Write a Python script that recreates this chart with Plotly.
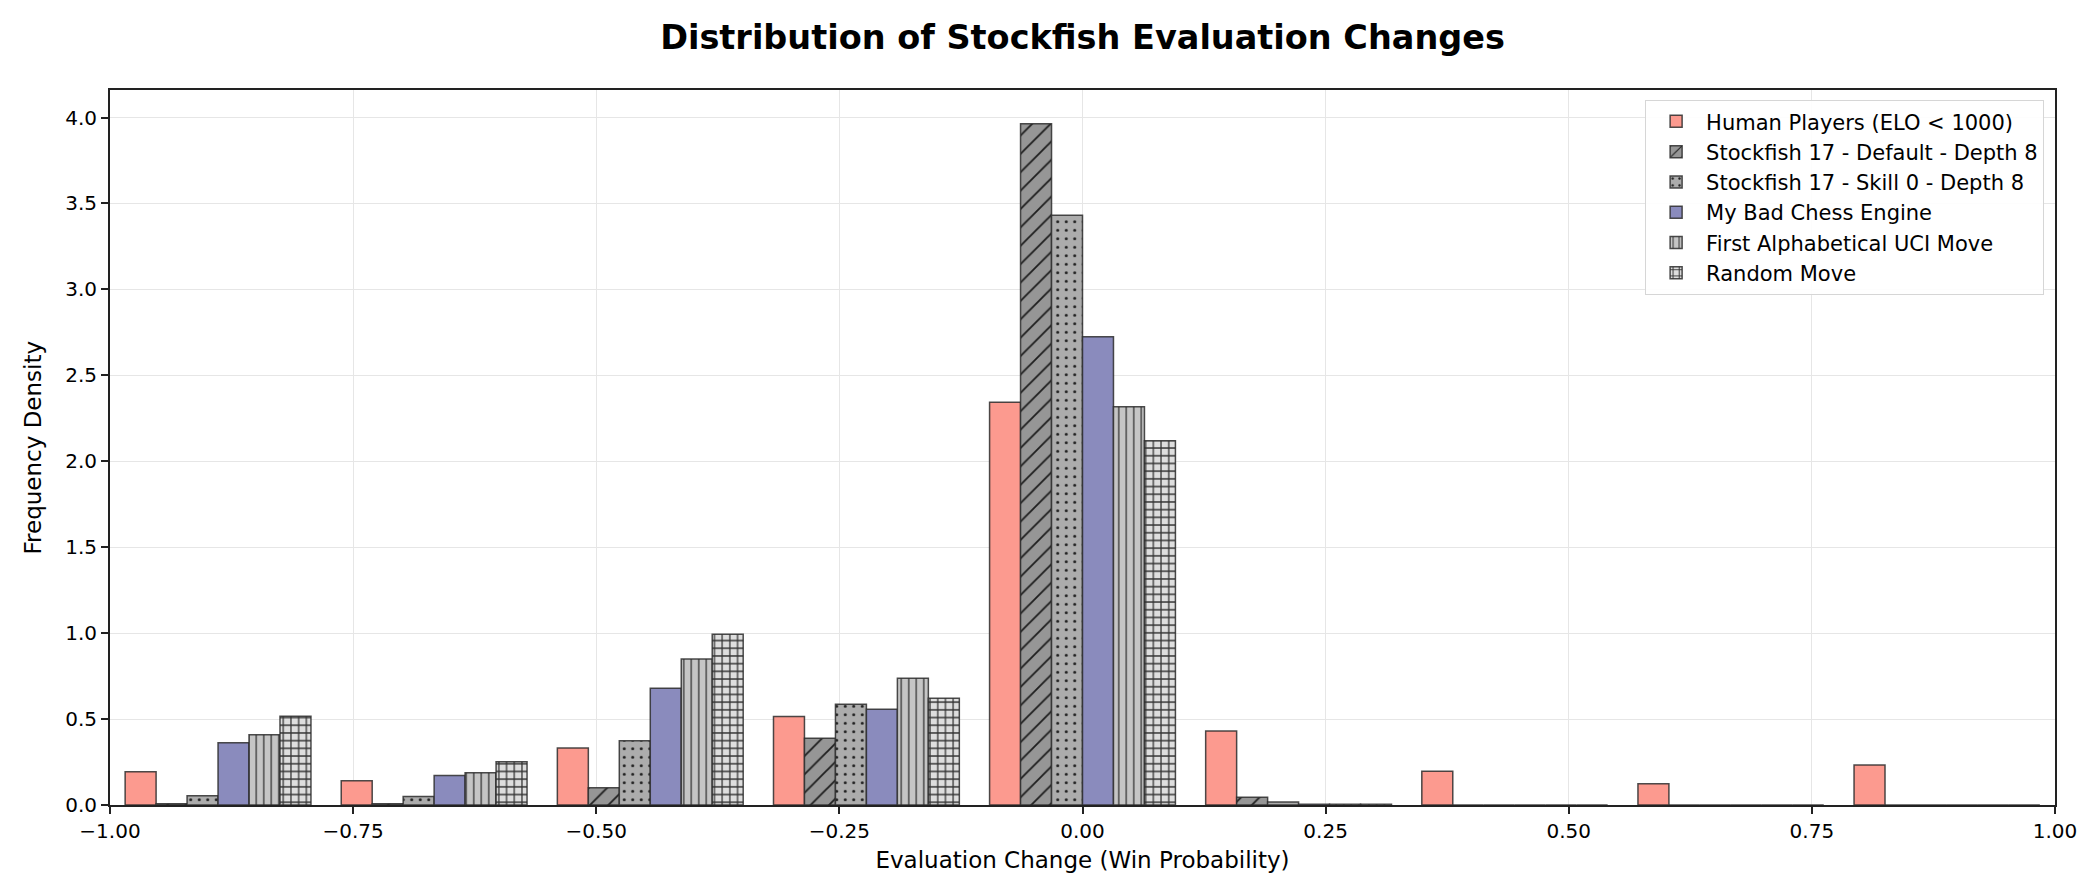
import numpy as np
import plotly.graph_objects as go

# ---- data ----
bin_edges = [-1.0, -0.7778, -0.5556, -0.3333, -0.1111, 0.1111, 0.3333, 0.5556, 0.7778, 1.0]

series_names = [
    "Human Players (ELO < 1000)",
    "Stockfish 17 - Default - Depth 8",
    "Stockfish 17 - Skill 0 - Depth 8",
    "My Bad Chess Engine",
    "First Alphabetical UCI Move",
    "Random Move",
]
human = [0.194, 0.141, 0.332, 0.515, 2.344, 0.430, 0.197, 0.123, 0.233]
sf_default = [0.008, 0.008, 0.100, 0.388, 3.963, 0.045, 0.0, 0.0, 0.0]
sf_skill0 = [0.054, 0.050, 0.374, 0.586, 3.432, 0.0175, 0.0, 0.0, 0.0]
my_engine = [0.362, 0.171, 0.680, 0.557, 2.724, 0.004, 0.0, 0.0, 0.0]
first_alpha = [0.409, 0.188, 0.849, 0.738, 2.317, 0.004, 0.0, 0.0, 0.0]
random_move = [0.516, 0.252, 0.994, 0.621, 2.119, 0.004, 0.0, 0.0, 0.0]

x_tick_vals = [-1.0, -0.75, -0.5, -0.25, 0.0, 0.25, 0.5, 0.75, 1.0]
x_tick_text = ["\u22121.00", "\u22120.75", "\u22120.50", "\u22120.25", "0.00", "0.25", "0.50", "0.75", "1.00"]
y_tick_vals = [0.0, 0.5, 1.0, 1.5, 2.0, 2.5, 3.0, 3.5, 4.0]

# ---- styles ----
edges = np.array(bin_edges)
centers = (edges[:-1] + edges[1:]) / 2

values = [human, sf_default, sf_skill0, my_engine, first_alpha, random_move]
colors = [
    "rgb(252,154,143)",
    "rgb(150,150,150)",
    "rgb(172,172,172)",
    "rgb(138,139,189)",
    "rgb(197,197,197)",
    "rgb(222,222,222)",
]
patterns = [
    None,
    dict(shape="/", size=13, solidity=0.14, fgcolor="#1e1e1e"),
    dict(shape=".", size=8.5, solidity=0.1, fgcolor="#1e1e1e"),
    None,
    dict(shape="|", size=7.5, solidity=0.17, fgcolor="#333333"),
    dict(shape="+", size=7.7, solidity=0.3, fgcolor="#333333"),
]

font_family = "DejaVu Sans"
L, R, T, B = 102, 38, 82, 87
W, H = 2085, 884

fig = go.Figure()
for name, vals, col, pat in zip(series_names, values, colors, patterns):
    marker = dict(color=col, line=dict(color="rgba(45,45,45,0.85)", width=1.5))
    if pat is not None:
        marker["pattern"] = dict(bgcolor=col, fillmode="replace", **pat)
    fig.add_trace(go.Bar(x=centers, y=vals, name=name, marker=marker))

fig.update_layout(
    width=W,
    height=H,
    barmode="group",
    bargap=0.14,
    bargroupgap=0.0,
    plot_bgcolor="white",
    paper_bgcolor="white",
    margin=dict(l=L, r=R, t=T, b=B),
    font=dict(family=font_family, size=20, color="black"),
    title=dict(
        text="<b>Distribution of Stockfish Evaluation Changes</b>",
        font=dict(family=font_family, size=33.5, color="black"),
        x=(L + W - R) / 2 / W,
        xanchor="center",
        xref="container",
        y=1 - 29 / H,
        yref="container",
        yanchor="middle",
    ),
    legend=dict(
        x=0.9943,
        y=0.986,
        xanchor="right",
        yanchor="top",
        bgcolor="rgba(255,255,255,0.9)",
        bordercolor="#d6d6d6",
        borderwidth=1.2,
        font=dict(family=font_family, size=21, color="black"),
        traceorder="normal",
        itemwidth=50,
    ),
    showlegend=True,
    annotations=[
        dict(
            text="Frequency Density",
            xref="paper",
            yref="paper",
            x=(24 - L) / (W - L - R),
            y=0.5,
            xanchor="center",
            yanchor="middle",
            textangle=-90,
            showarrow=False,
            font=dict(family=font_family, size=23, color="black"),
        )
    ],
)

fig.update_xaxes(
    range=[-1, 1],
    tickvals=x_tick_vals,
    ticktext=x_tick_text,
    ticks="outside",
    ticklen=7,
    tickwidth=1.6,
    tickcolor="#222222",
    showline=True,
    linecolor="#222222",
    linewidth=1.8,
    mirror=True,
    showgrid=True,
    gridcolor="#e6e6e6",
    gridwidth=1.3,
    zeroline=False,
    tickfont=dict(size=20),
    title=dict(text="Evaluation Change (Win Probability)", font=dict(size=23), standoff=10),
)
fig.update_yaxes(
    range=[0, 4.16],
    tickvals=y_tick_vals,
    tickformat=".1f",
    ticks="outside",
    ticklen=7,
    tickwidth=1.6,
    tickcolor="#222222",
    showline=True,
    linecolor="#222222",
    linewidth=1.8,
    mirror=True,
    showgrid=True,
    gridcolor="#e6e6e6",
    gridwidth=1.3,
    zeroline=False,
    tickfont=dict(size=20),
)

fig.write_html("out.html")
